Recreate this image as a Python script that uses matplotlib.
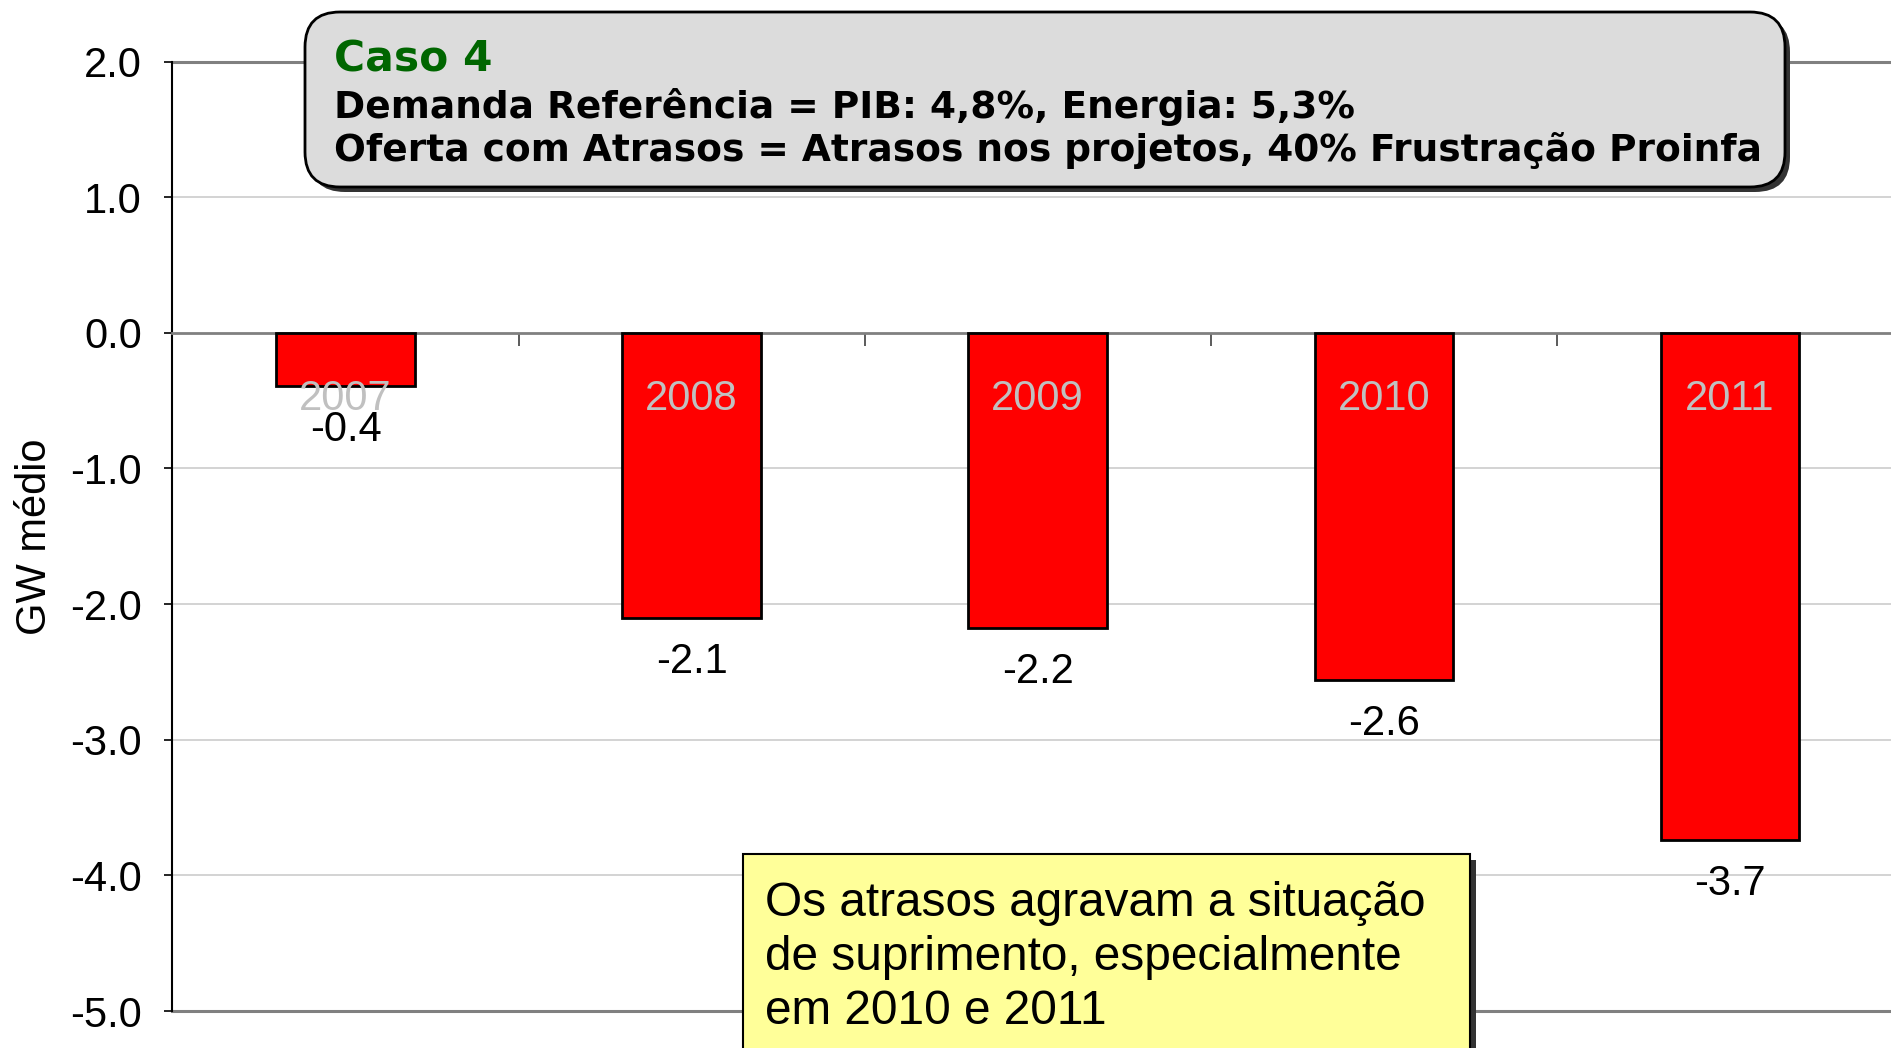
import matplotlib.pyplot as plt
from matplotlib.patches import FancyBboxPatch, Rectangle

plt.rcParams['font.family'] = ['Liberation Sans', 'DejaVu Sans']

years = ['2007', '2008', '2009', '2010', '2011']
values = [-0.39, -2.10, -2.18, -2.56, -3.74]
value_labels = ['-0.4', '-2.1', '-2.2', '-2.6', '-3.7']
yticks = [2.0, 1.0, 0.0, -1.0, -2.0, -3.0, -4.0, -5.0]

title_case = 'Caso 4'
title_lines = ['Demanda Referência = PIB: 4,8%, Energia: 5,3%',
               'Oferta com Atrasos = Atrasos nos projetos, 40% Frustração Proinfa']
note = 'Os atrasos agravam a situação\nde suprimento, especialmente\nem 2010 e 2011'

fig = plt.figure(figsize=(18.91, 10.48), dpi=100)
ax = fig.add_axes([0.0912, 0.0353, 0.9151, 0.906])

x = range(len(years))
ax.bar(x, values, width=0.4, color='#ff0000', edgecolor='black', linewidth=2, zorder=3)

for i, (yr, v, lab) in enumerate(zip(years, values, value_labels)):
    ax.text(i, -0.485, yr, ha='center', va='center', fontsize=30, color='#c0c0c0', zorder=4)
    ax.annotate(lab, (i, v), xytext=(0, -44), textcoords='offset pixels',
                ha='center', va='center', fontsize=30, color='black', zorder=4)

ax.set_xlim(-0.5, len(years) - 0.5)
ax.set_ylim(-5, 2)
ax.set_yticks(yticks)
ax.set_yticklabels([f'{t:.1f}' for t in yticks], fontsize=30)
ax.tick_params(axis='y', length=6, width=1.2, pad=16, color='black')

# category boundaries as ticks on the zero line
ax.set_xticks([i + 0.5 for i in range(len(years) - 1)])
ax.set_xticklabels([])
ax.spines['bottom'].set_position(('data', 0))
ax.spines['bottom'].set_color('#808080')
ax.spines['bottom'].set_linewidth(2)
ax.tick_params(axis='x', direction='out', length=9, width=1.2, color='#404040')

ax.spines['top'].set_visible(False)
ax.spines['right'].set_visible(False)
ax.spines['left'].set_linewidth(1.5)

for g in [1, -1, -2, -3, -4]:
    ax.axhline(g, color='#cccccc', linewidth=1.2, zorder=0)
for g in [2, -5]:
    ax.axhline(g, color='#808080', linewidth=2.2, zorder=1, clip_on=False)

ax.set_ylabel('GW médio', fontsize=30)
ax.yaxis.set_label_coords(-0.068, 0.5)

# title box with shadow (inches)
tr = fig.dpi_scale_trans
shadow = FancyBboxPatch((3.05 + 0.05, 8.61 - 0.05), 14.8, 1.75,
                        boxstyle='round,pad=0,rounding_size=0.35',
                        transform=tr, facecolor='#333333', edgecolor='none', zorder=2)
box = FancyBboxPatch((3.05, 8.61), 14.8, 1.75,
                     boxstyle='round,pad=0,rounding_size=0.35',
                     transform=tr, facecolor='#dcdcdc', edgecolor='black',
                     linewidth=2, zorder=2.1)
fig.patches.extend([shadow, box])
fig.text(0.1766, 0.943, title_case, fontsize=30.5, fontweight='bold', color='#006600',
         family='DejaVu Sans', va='center', zorder=3)
fig.text(0.1766, 0.898, title_lines[0], fontsize=27, fontweight='bold', color='black',
         family='DejaVu Sans', va='center', zorder=3)
fig.text(0.1766, 0.856, title_lines[1], fontsize=27, fontweight='bold', color='black',
         family='DejaVu Sans', va='center', zorder=3)

# note box
nshadow = Rectangle((7.43 + 0.06, -0.5), 7.27, 2.44 - 0.06, transform=tr,
                    facecolor='#333333', edgecolor='none', zorder=2)
nbox = Rectangle((7.43, -0.5), 7.27, 2.44, transform=tr,
                 facecolor='#ffff99', edgecolor='black', linewidth=1.5, zorder=2.1)
fig.patches.extend([nshadow, nbox])
fig.text(0.4045, 0.086, note, fontsize=34.4, color='black', va='center', ha='left',
         linespacing=1.26, zorder=3)

fig.savefig('out.png', dpi=100)
